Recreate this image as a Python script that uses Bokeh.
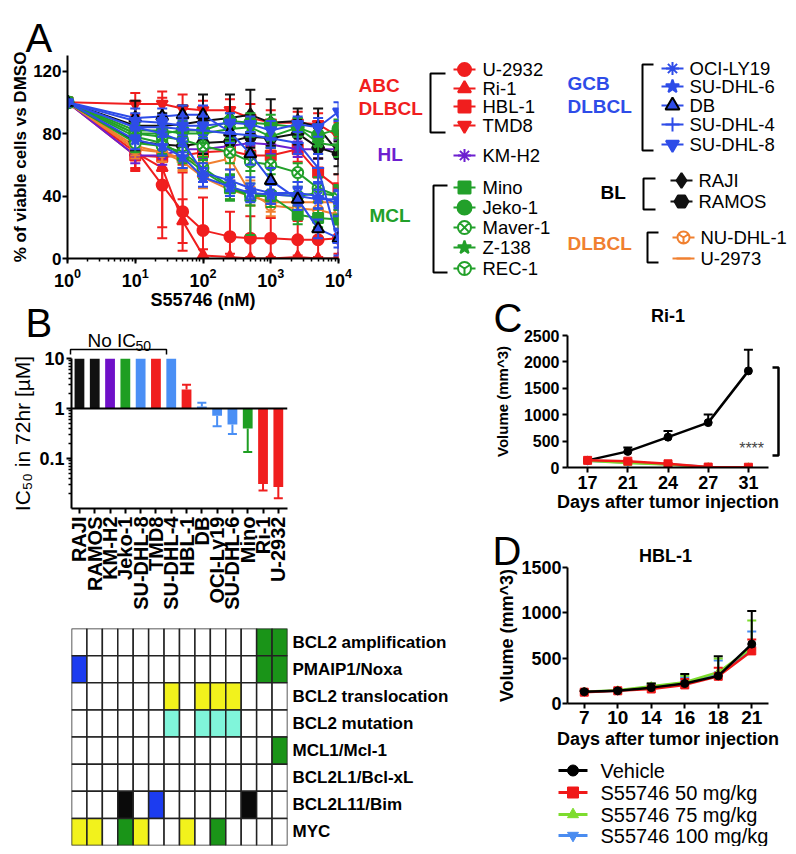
import math
from bokeh.plotting import figure
from bokeh.layouts import row, column
from bokeh.models import (Range1d, FactorRange, FixedTicker, Label, Span, NumeralTickFormatter)
from bokeh.embed import file_html
from bokeh.resources import INLINE
from bokeh.core.properties import value

FONT = "Liberation Sans"

# ======================= DATA =======================
# Panel A: % viable cells vs DMSO
doses_nM = [1, 10, 25, 50, 100, 250, 500, 1000, 2500, 5000, 10000]

U2932 = [100, 70, 47, 30, 18, 14, 13, 13, 12, 12, 13]
U2932_sd = [0, 14, 27, 25, 21, 16, 14, 13, 12, 11, 10]
Ri1 = [100, 68, 58, 24, 2, 1, 0, 0, 1, 0, 0]
Ri1_sd = [0, 10, 45, 14, 4, 2, 1, 1, 1, 1, 1]
HBL1 = [100, 66, 65, 66, 68, 69, 66, 66, 70, 55, 45]
HBL1_sd = [0, 9, 7, 6, 7, 6, 6, 7, 8, 9, 9]
TMD8 = [100, 99, 99, 96, 95, 95, 90, 87, 87, 86, 78]
TMD8_sd = [0, 7, 8, 9, 6, 7, 9, 8, 7, 7, 9]
KMH2 = [100, 66, 66, 70, 70, 72, 74, 73, 70, 70, 70]
KMH2_sd = [0, 5, 6, 5, 6, 5, 6, 6, 5, 6, 6]
Mino = [100, 78, 74, 66, 56, 45, 40, 40, 28, 26, 25]
Mino_sd = [0, 6, 7, 8, 7, 8, 25, 7, 6, 6, 6]
Jeko1 = [100, 80, 80, 82, 82, 88, 87, 86, 84, 79, 83]
Jeko1_sd = [0, 5, 6, 6, 5, 5, 6, 6, 6, 7, 6]
Maver1 = [100, 80, 78, 76, 72, 68, 62, 60, 55, 45, 40]
Maver1_sd = [0, 6, 6, 6, 7, 7, 6, 6, 6, 7, 7]
Z138 = [100, 82, 82, 80, 80, 83, 84, 78, 84, 74, 72]
Z138_sd = [0, 5, 6, 6, 6, 6, 6, 7, 6, 7, 7]
REC1 = [100, 74, 72, 68, 58, 46, 41, 41, 40, 42, 40]
REC1_sd = [0, 6, 6, 7, 7, 8, 7, 6, 6, 6, 6]
OCILY19 = [100, 84, 80, 75, 55, 50, 45, 42, 42, 40, 35]
OCILY19_sd = [0, 6, 7, 7, 6, 7, 7, 7, 7, 8, 8]
SUDHL6 = [100, 76, 72, 65, 52, 46, 42, 41, 40, 38, 38]
SUDHL6_sd = [0, 6, 6, 7, 6, 6, 6, 6, 6, 6, 6]
DB = [100, 90, 91, 92, 92, 81, 67, 50, 38, 19, 13]
DB_sd = [0, 6, 5, 6, 6, 7, 7, 8, 7, 6, 6]
SUDHL4 = [100, 84, 84, 83, 82, 80, 79, 77, 74, 58, 10]
SUDHL4_sd = [0, 5, 6, 6, 5, 6, 6, 6, 7, 9, 8]
SUDHL8 = [100, 88, 87, 85, 85, 87, 86, 82, 86, 84, 94]
SUDHL8_sd = [0, 5, 5, 6, 6, 6, 5, 6, 5, 6, 6]
RAJI = [100, 85, 85, 86, 88, 90, 92, 87, 88, 84, 68]
RAJI_sd = [0, 16, 8, 12, 17, 15, 16, 15, 8, 12, 14]
RAMOS = [100, 75, 73, 72, 74, 75, 78, 77, 80, 71, 67]
RAMOS_sd = [0, 6, 7, 6, 7, 8, 7, 6, 7, 7, 8]
NUDHL1 = [100, 70, 68, 64, 60, 64, 42, 34, 32, 31, 28]
NUDHL1_sd = [0, 6, 6, 7, 6, 7, 8, 7, 6, 6, 6]
U2973 = [100, 72, 68, 62, 52, 44, 40, 36, 36, 36, 36]
U2973_sd = [0, 6, 6, 6, 7, 6, 6, 6, 5, 5, 5]

# Panel B: IC50 (uM) after 72 h
ic50_lines = ["RAJI", "RAMOS", "KM-H2", "Jeko-1", "SU-DHL-8", "TMD8", "SU-DHL-4",
              "HBL-1", "DB", "OCI-Ly19", "SU-DHL-6", "Mino", "Ri-1", "U-2932"]
ic50_uM = [10, 10, 10, 10, 10, 10, 10, 2.4, 1.1, 0.72, 0.48, 0.40, 0.031, 0.027]
ic50_err_end_uM = [10, 10, 10, 10, 10, 10, 10, 3.0, 1.3, 0.44, 0.31, 0.135, 0.023, 0.016]

# Heat map (columns follow ic50_lines)
heat_rows = ["BCL2 amplification", "PMAIP1/Noxa", "BCL2 translocation", "BCL2 mutation",
             "MCL1/Mcl-1", "BCL2L1/Bcl-xL", "BCL2L11/Bim", "MYC"]
heat_codes = ["wwwwwwwwwwwwgg",
              "bwwwwwwwwwwwgg",
              "wwwwwwywyyywww",
              "wwwwwwawaaawww",
              "wwwwwwwwwwwwwg",
              "wwwwwwwwwwwwww",
              "wwwkwbwwwwwkww",
              "yywgywwywgwwww"]

# Panel C: Ri-1 xenograft
days_C = ["17", "21", "24", "27", "31"]
C_vehicle = [135, 305, 575, 850, 1830]
C_vehicle_err = [15, 75, 115, 155, 400]
C_50 = [135, 120, 70, 8, 5]
C_50_err = [10, 20, 15, 4, 3]
C_75 = [130, 85, 55, 6, 3]
C_75_err = [10, 15, 10, 3, 2]
C_100 = [130, 95, 60, 8, 4]
C_100_err = [10, 15, 12, 4, 2]

# Panel D: HBL-1 xenograft
days_D = ["7", "10", "14", "16", "18", "21"]
D_vehicle = [130, 140, 175, 220, 305, 655]
D_vehicle_err = [10, 15, 45, 105, 215, 365]
D_50 = [125, 140, 160, 205, 300, 580]
D_50_err = [10, 10, 25, 65, 95, 125]
D_75 = [130, 145, 190, 235, 345, 615]
D_75_err = [10, 12, 30, 70, 150, 300]
D_100 = [128, 142, 182, 228, 325, 600]
D_100_err = [10, 10, 30, 60, 150, 195]

# ======================= STYLE =======================
RED = "#f01e1e"
PURPLE = "#6d1fd0"
GREEN = "#22a02a"
BLUE = "#2e4ce8"
BLACK = "#111111"
ORANGE = "#f08030"
LBLUE = "#4a8ff5"

STYLE = {
    "U-2932": (RED, "circle", RED, RED, 11),
    "Ri-1": (RED, "triangle", RED, RED, 11),
    "HBL-1": (RED, "square", RED, RED, 10),
    "TMD8": (RED, "inverted_triangle", RED, RED, 11),
    "KM-H2": (PURPLE, "asterisk", PURPLE, PURPLE, 11),
    "Mino": (GREEN, "square", GREEN, GREEN, 10),
    "Jeko-1": (GREEN, "circle", GREEN, GREEN, 12),
    "Maver-1": (GREEN, "circle_x", "white", GREEN, 11),
    "Z-138": (GREEN, "star", GREEN, GREEN, 12),
    "REC-1": (GREEN, "circle_y", "white", GREEN, 11),
    "OCI-LY19": (BLUE, "asterisk", BLUE, BLUE, 11),
    "SU-DHL-6": (BLUE, "star", BLUE, BLUE, 12),
    "DB": (BLUE, "triangle", BLUE, "black", 12),
    "SU-DHL-4": (BLUE, "cross", BLUE, BLUE, 12),
    "SU-DHL-8": (BLUE, "inverted_triangle", BLUE, BLUE, 11),
    "RAJI": (BLACK, "diamond", BLACK, BLACK, 13),
    "RAMOS": (BLACK, "hex", BLACK, BLACK, 12),
    "NU-DHL-1": (ORANGE, "circle_y", "white", ORANGE, 10),
    "U-2973": (ORANGE, "dash", ORANGE, ORANGE, 12),
}

series_A = [
    ("U-2932", U2932, U2932_sd), ("Ri-1", Ri1, Ri1_sd), ("HBL-1", HBL1, HBL1_sd),
    ("TMD8", TMD8, TMD8_sd), ("KM-H2", KMH2, KMH2_sd),
    ("NU-DHL-1", NUDHL1, NUDHL1_sd), ("U-2973", U2973, U2973_sd),
    ("RAJI", RAJI, RAJI_sd), ("RAMOS", RAMOS, RAMOS_sd),
    ("Mino", Mino, Mino_sd), ("Jeko-1", Jeko1, Jeko1_sd), ("Maver-1", Maver1, Maver1_sd),
    ("Z-138", Z138, Z138_sd), ("REC-1", REC1, REC1_sd),
    ("OCI-LY19", OCILY19, OCILY19_sd), ("SU-DHL-6", SUDHL6, SUDHL6_sd), ("DB", DB, DB_sd),
    ("SU-DHL-4", SUDHL4, SUDHL4_sd), ("SU-DHL-8", SUDHL8, SUDHL8_sd),
]

bar_colors = [BLACK, BLACK, "#6f10c8", "#1e9e22", LBLUE, RED, LBLUE,
              RED, LBLUE, LBLUE, LBLUE, "#1e9e22", RED, RED]
HEAT_COLORS = {"w": "white", "g": "#1a9418", "b": "#1c3cf0", "y": "#f2f21c",
               "a": "#80f5da", "k": "#0a0a0a"}

VEH, S50, S75, S100 = "#000000", "#f01818", "#7ddc2e", "#4a8cf0"


def base_fig(**kw):
    p = figure(output_backend="svg", toolbar_location=None, **kw)
    p.outline_line_color = None
    p.grid.visible = False
    p.background_fill_color = "white"
    p.border_fill_color = "white"
    return p


def style_axes(p, tick_size, label_size):
    for ax in p.axis:
        ax.axis_line_width = 2
        ax.axis_line_color = "black"
        ax.major_tick_line_width = 2
        ax.major_tick_line_color = "black"
        ax.minor_tick_line_width = 1.5
        ax.minor_tick_line_color = "black"
        ax.major_tick_in = 0
        ax.major_tick_out = 5
        ax.minor_tick_in = 0
        ax.minor_tick_out = 3
        ax.major_label_text_font = FONT
        ax.major_label_text_font_style = "bold"
        ax.major_label_text_font_size = tick_size
        ax.major_label_text_color = "black"
        ax.axis_label_text_font = FONT
        ax.axis_label_text_font_style = "bold"
        ax.axis_label_text_font_size = label_size
        ax.axis_label_text_color = "black"


# ======================= PANEL A =======================
pA = base_fig(width=348, height=315, x_axis_type="log", x_range=Range1d(1, 1e4),
              y_range=Range1d(0, 130), min_border_left=59, min_border_right=18,
              min_border_top=47, min_border_bottom=65)
style_axes(pA, "17px", "17px")
pA.yaxis.ticker = FixedTicker(ticks=[0, 40, 80, 120])
pA.yaxis.minor_tick_line_color = None
pA.yaxis.major_label_standoff = 1
pA.yaxis.axis_label_standoff = 0
pA.yaxis.axis_label = "% of viable cells vs DMSO"
pA.xaxis.axis_label = "S55746 (nM)"
pA.xaxis.axis_label_text_font_size = "18px"
pA.xaxis.major_label_standoff = 4
pA.xaxis.axis_label_standoff = 0
pA.xaxis.major_label_text_font_size = "18px"

for name, vals, sds in series_A:
    c, mk, fill, lc, sz = STYLE[name]
    lo = [v - s for v, s in zip(vals, sds)]
    hi = [v + s for v, s in zip(vals, sds)]
    pA.segment(x0=doses_nM, y0=lo, x1=doses_nM, y1=hi, line_color=c, line_width=2)
    pA.scatter(doses_nM + doses_nM, lo + hi, marker="dash", size=10, line_color=c, line_width=2)
    pA.line(doses_nM, vals, line_color=c, line_width=2)
    pA.scatter(doses_nM, vals, marker=mk, size=sz, fill_color=fill, line_color=lc, line_width=2)

# ======================= PANEL B =======================
pB = base_fig(width=480, height=292, y_axis_type="log", x_range=Range1d(-0.52, 13.6),
              y_range=Range1d(0.01, 10), min_border_left=59, min_border_right=176,
              min_border_top=35, min_border_bottom=107)
style_axes(pB, "18px", "21px")
pB.yaxis.ticker = FixedTicker(ticks=[0.1, 1, 10],
                              minor_ticks=[k * 10.0 ** e for e in (-2, -1, 0) for k in range(2, 10)])
pB.yaxis.formatter = NumeralTickFormatter(format="0.[0]")
pB.yaxis.axis_label = "IC\u2085\u2080 in 72hr [\u00b5M]"
pB.yaxis.axis_label_text_font_style = "normal"
pB.yaxis.major_label_standoff = 2
pB.yaxis.axis_label_standoff = 2
pB.xaxis.ticker = FixedTicker(ticks=list(range(len(ic50_lines))))
pB.xaxis.major_label_overrides = {i: n for i, n in enumerate(ic50_lines)}
pB.xaxis.major_label_orientation = math.pi / 2
pB.xaxis.major_label_text_font_size = "20px"
pB.xaxis.major_label_standoff = 3
pB.xaxis.minor_tick_line_color = None

xb = list(range(len(ic50_lines)))
pB.vbar(x=xb, top=ic50_uM, bottom=1, width=0.64, fill_color=bar_colors, line_color=None)
err_idx = [i for i in xb if ic50_err_end_uM[i] != ic50_uM[i]]
ex = [xb[i] for i in err_idx]
pB.segment(x0=ex, y0=[ic50_uM[i] for i in err_idx], x1=ex, y1=[ic50_err_end_uM[i] for i in err_idx],
           line_color=[bar_colors[i] for i in err_idx], line_width=2)
pB.scatter(ex, [ic50_err_end_uM[i] for i in err_idx], marker="dash", size=9,
           line_color=[bar_colors[i] for i in err_idx], line_width=2)
pB.add_layout(Span(location=1, dimension="width", line_color="black", line_width=2))

# ======================= HEAT MAP =======================
pH = base_fig(width=480, height=231, x_range=Range1d(0, len(ic50_lines)),
              y_range=FactorRange(*reversed(heat_rows)), x_axis_location=None,
              y_axis_location="right", min_border_left=52, min_border_right=201,
              min_border_top=13, min_border_bottom=1)
style_axes(pH, "17px", "17px")
pH.yaxis.axis_line_color = None
pH.yaxis.major_tick_out = 0
pH.yaxis.major_label_standoff = 5
hx, hy, hc = [], [], []
for rname, codes in zip(heat_rows, heat_codes):
    for i, ch in enumerate(codes):
        hx.append(i + 0.5)
        hy.append(rname)
        hc.append(HEAT_COLORS[ch])
pH.rect(x=hx, y=hy, width=1, height=1, fill_color=hc, line_color="#222222", line_width=1.5)

# ======================= PANEL C =======================
pC = base_fig(width=300, height=192, x_range=FactorRange(*days_C), y_range=Range1d(0, 2500),
              min_border_left=79, min_border_right=20, min_border_top=12, min_border_bottom=48)
style_axes(pC, "16px", "18px")
pC.yaxis.ticker = FixedTicker(ticks=[0, 500, 1000, 1500, 2000, 2500])
pC.yaxis.minor_tick_line_color = None
pC.yaxis.axis_label = "Volume (mm^3)"
pC.yaxis.axis_label_text_font_size = "15px"
pC.yaxis.major_label_standoff = 3
pC.yaxis.axis_label_standoff = 10
pC.xaxis.axis_label = "Days after tumor injection"
pC.xaxis.major_label_text_font_size = "18px"
pC.xaxis.major_label_standoff = 3
pC.xaxis.axis_label_standoff = 0

for vals, errs, col, mk in [(C_vehicle, C_vehicle_err, VEH, "circle"),
                            (C_100, C_100_err, S100, "inverted_triangle"),
                            (C_75, C_75_err, S75, "triangle"),
                            (C_50, C_50_err, S50, "square")]:
    hi = [v + e for v, e in zip(vals, errs)]
    pC.segment(x0=days_C, y0=vals, x1=days_C, y1=hi, line_color=col, line_width=2)
    pC.scatter(days_C, hi, marker="dash", size=9, line_color=col, line_width=2)
    pC.line(days_C, vals, line_color=col, line_width=2.5)
    pC.scatter(days_C, vals, marker=mk, size=8, fill_color=col, line_color=col)

pC.add_layout(Label(x=4.58, y=360, text="****", text_font=FONT, text_font_size="16px",
                    text_align="center", text_baseline="alphabetic", text_color="#444444"))

# ======================= PANEL D =======================
pD = base_fig(width=300, height=331, x_range=FactorRange(*days_D), y_range=Range1d(0, 1500),
              min_border_left=74, min_border_right=20, min_border_top=52, min_border_bottom=143)
style_axes(pD, "18px", "18px")
pD.yaxis.ticker = FixedTicker(ticks=[0, 500, 1000, 1500])
pD.yaxis.minor_tick_line_color = None
pD.yaxis.axis_label = "Volume (mm^3)"
pD.yaxis.major_label_standoff = 1
pD.yaxis.axis_label_standoff = 1
pD.xaxis.axis_label = "Days after tumor injection"
pD.xaxis.major_label_text_font_size = "19px"
pD.xaxis.major_label_standoff = 2
pD.xaxis.axis_label_standoff = 2

groups_D = [("S55746 100 mg/kg", D_100, D_100_err, S100, "inverted_triangle"),
            ("S55746 75 mg/kg", D_75, D_75_err, S75, "triangle"),
            ("S55746 50 mg/kg", D_50, D_50_err, S50, "square"),
            ("Vehicle", D_vehicle, D_vehicle_err, VEH, "circle")]
for key, vals, errs, col, mk in groups_D:
    hi = [v + e for v, e in zip(vals, errs)]
    pD.segment(x0=days_D, y0=vals, x1=days_D, y1=hi, line_color=col, line_width=2)
    pD.scatter(days_D, hi, marker="dash", size=9, line_color=col, line_width=2)
    pD.line(days_D, vals, line_color=col, line_width=2.5)
    pD.scatter(days_D, vals, marker=mk, size=8, fill_color=col, line_color=col)

# ======================= OVERLAY (legends, letters, brackets) =======================
# transparent page-sized canvas laid over the panels (page pixel coordinates)
ov = figure(width=780, height=838, x_range=Range1d(8, 788), y_range=Range1d(846, 8),
            x_axis_location=None, y_axis_location=None, min_border=0,
            output_backend="svg", toolbar_location=None, margin=(-838, 0, 0, 0))
ov.outline_line_color = None
ov.background_fill_alpha = 0
ov.border_fill_alpha = 0
ov.xgrid.visible = False
ov.ygrid.visible = False
ov.grid.visible = False

# --- panel A legend ---
leg_left = ["U-2932", "Ri-1", "HBL-1", "TMD8", "KM-H2", "Mino", "Jeko-1", "Maver-1", "Z-138", "REC-1"]
leg_left_y = [69, 88, 106, 125, 155, 187, 207, 227, 247, 268]
leg_right = ["OCI-LY19", "SU-DHL-6", "DB", "SU-DHL-4", "SU-DHL-8", "RAJI", "RAMOS", "NU-DHL-1", "U-2973"]
leg_right_y = [68, 86, 105, 124, 144, 180, 201, 237, 258]
leg_right_mx = [672, 672, 672, 672, 672, 681, 681, 683, 683]

entries = [(n, y, 464, 482) for n, y in zip(leg_left, leg_left_y)] + \
          [(n, y, mx, mx + 17) for n, y, mx in zip(leg_right, leg_right_y, leg_right_mx)]
for n, y, mx, tx in entries:
    c, mk, fill, lc, sz = STYLE[n]
    ov.segment(x0=[mx - 11], y0=[y], x1=[mx + 11], y1=[y], line_color=c, line_width=2)
    ov.scatter([mx], [y], marker=mk, size=sz + 2, fill_color=fill, line_color=lc, line_width=2)
ov.text(x=[e[3] for e in entries], y=[e[1] for e in entries], text=[e[0] for e in entries],
        text_font=value(FONT), text_font_size="18.5px", text_baseline="middle",
        text_align="left", text_color="black")

grp_text = ["ABC", "DLBCL", "HL", "MCL", "GCB", "DLBCL", "BL", "DLBCL"]
grp_x = [358, 358, 377, 369, 567, 567, 600, 567]
grp_y = [85, 108, 154, 215, 83, 106, 192, 243]
grp_col = [RED, RED, PURPLE, GREEN, BLUE, BLUE, "black", ORANGE]
ov.text(x=grp_x, y=grp_y, text=grp_text, text_color=grp_col, text_font=value(FONT),
        text_font_style="bold", text_font_size="19px", text_baseline="middle", text_align="left")

br_xs = [[445, 430, 430, 445], [447, 433, 433, 447], [653, 642, 642, 653],
         [655, 643, 643, 655], [658, 647, 647, 658],
         [70, 70, 166, 166], [772, 778, 778, 772]]
br_ys = [[73, 73, 132, 132], [185, 185, 272, 272], [64, 64, 150, 150],
         [178, 178, 209, 209], [232, 232, 262, 262],
         [354, 349, 349, 354], [367, 367, 455, 455]]
ov.multi_line(br_xs, br_ys, line_color="black", line_width=[2, 2, 2, 2, 2, 1.5, 2.5])

# --- panel letters and titles ---
ov.text(x=[25, 25, 493, 492], y=[37, 322, 317, 550], text=["A", "B", "C", "D"],
        text_font=value(FONT), text_font_size="40px", text_baseline="alphabetic", text_color="black")
ov.text(x=[667.5, 665], y=[315, 555], text=["Ri-1", "HBL-1"], text_font=value(FONT),
        text_font_size="18px", text_font_style="bold", text_align="center",
        text_baseline="alphabetic", text_color="black")
ov.text(x=[87], y=[340], text=["No IC"], text_font=value(FONT), text_font_size="19px",
        text_baseline="alphabetic", text_color="black")
ov.text(x=[135], y=[345], text=["50"], text_font=value(FONT), text_font_size="14px",
        text_baseline="alphabetic", text_color="black")

# --- panel D legend ---
dleg = [("Vehicle", VEH, "circle", 770), ("S55746 50 mg/kg", S50, "square", 792),
        ("S55746 75 mg/kg", S75, "triangle", 814), ("S55746 100 mg/kg", S100, "inverted_triangle", 835)]
for lab, col, mk, y in dleg:
    ov.segment(x0=[558], y0=[y], x1=[587], y1=[y], line_color=col, line_width=3)
    ov.scatter([572.5], [y], marker=mk, size=11, fill_color=col, line_color=col)
ov.text(x=[600] * 4, y=[d[3] for d in dleg], text=[d[0] for d in dleg], text_font=value(FONT),
        text_font_size="20px", text_baseline="middle", text_color="black")

# ======================= LAYOUT =======================
layout = column(row(pA), row(column(pB, pH), column(pC, pD)), ov, margin=(8, 0, 0, 8))
open("out.html", "w").write(file_html(layout, INLINE))
